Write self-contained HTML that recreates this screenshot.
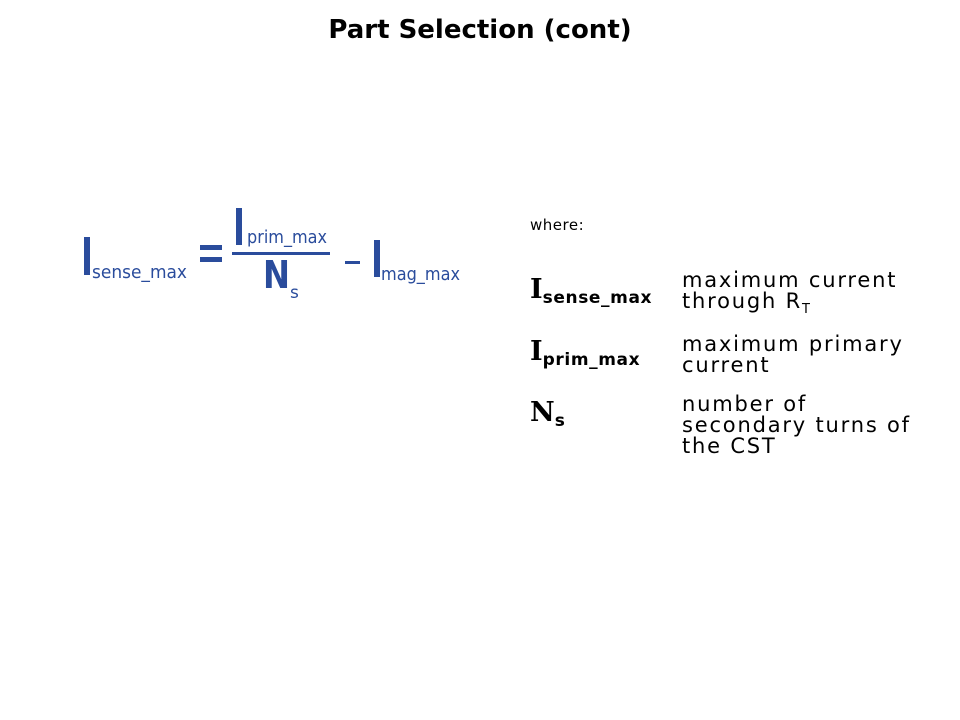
<!DOCTYPE html>
<html><head><meta charset="utf-8"><style>
body{margin:0;width:960px;height:720px;background:#fff;position:relative;overflow:hidden;font-family:"DejaVu Sans","Liberation Sans",sans-serif;color:#000}
.a{position:absolute;white-space:nowrap}
.t{font-size:21px;line-height:21px;letter-spacing:1.8px}
.l{font-family:"DejaVu Serif","Liberation Serif",serif;font-weight:bold;font-size:27px}
.l sub{font-family:"DejaVu Sans",sans-serif;font-size:17px;vertical-align:-5px;letter-spacing:0.6px}
</style></head><body>
<div class="a" style="left:0;width:960px;top:15px;text-align:center;font-family:'DejaVu Sans',sans-serif;font-weight:bold;font-size:26px">Part Selection (cont)</div>
<svg class="a" style="left:0;top:0" width="960" height="720">
<g fill="#2a4c9c" font-family="DejaVu Sans,sans-serif">
<rect x="84" y="237" width="6" height="38"/>
<text x="92" y="278" font-size="18" textLength="95" lengthAdjust="spacingAndGlyphs">sense_max</text>
<rect x="200" y="245" width="22" height="5"/><rect x="200" y="257" width="22" height="5"/>
<rect x="236" y="208" width="6" height="37"/>
<text x="247" y="243" font-size="18" textLength="80" lengthAdjust="spacingAndGlyphs">prim_max</text>
<rect x="232" y="252" width="98" height="3"/>
<text x="263" y="288" font-size="38" font-weight="bold" textLength="27" lengthAdjust="spacingAndGlyphs">N</text>
<text x="290" y="298" font-size="17">s</text>
<rect x="345" y="261" width="15" height="3"/>
<rect x="374" y="240" width="6" height="37"/>
<text x="381" y="280" font-size="18" textLength="79" lengthAdjust="spacingAndGlyphs">mag_max</text>
</g></svg>
<div class="a" style="left:530px;top:216px;font-size:15px;letter-spacing:0.5px">where:</div>
<div class="a l" style="left:530px;top:274px">I<sub>sense_max</sub></div>
<div class="a t" style="left:682px;top:270px">maximum current<br>through R<sub style="font-size:13px">T</sub></div>
<div class="a l" style="left:530px;top:336px">I<sub>prim_max</sub></div>
<div class="a t" style="left:682px;top:334px">maximum primary<br>current</div>
<div class="a l" style="left:530px;top:397px">N<sub>s</sub></div>
<div class="a t" style="left:682px;top:394px">number of<br>secondary turns of<br>the CST</div>
</body></html>
